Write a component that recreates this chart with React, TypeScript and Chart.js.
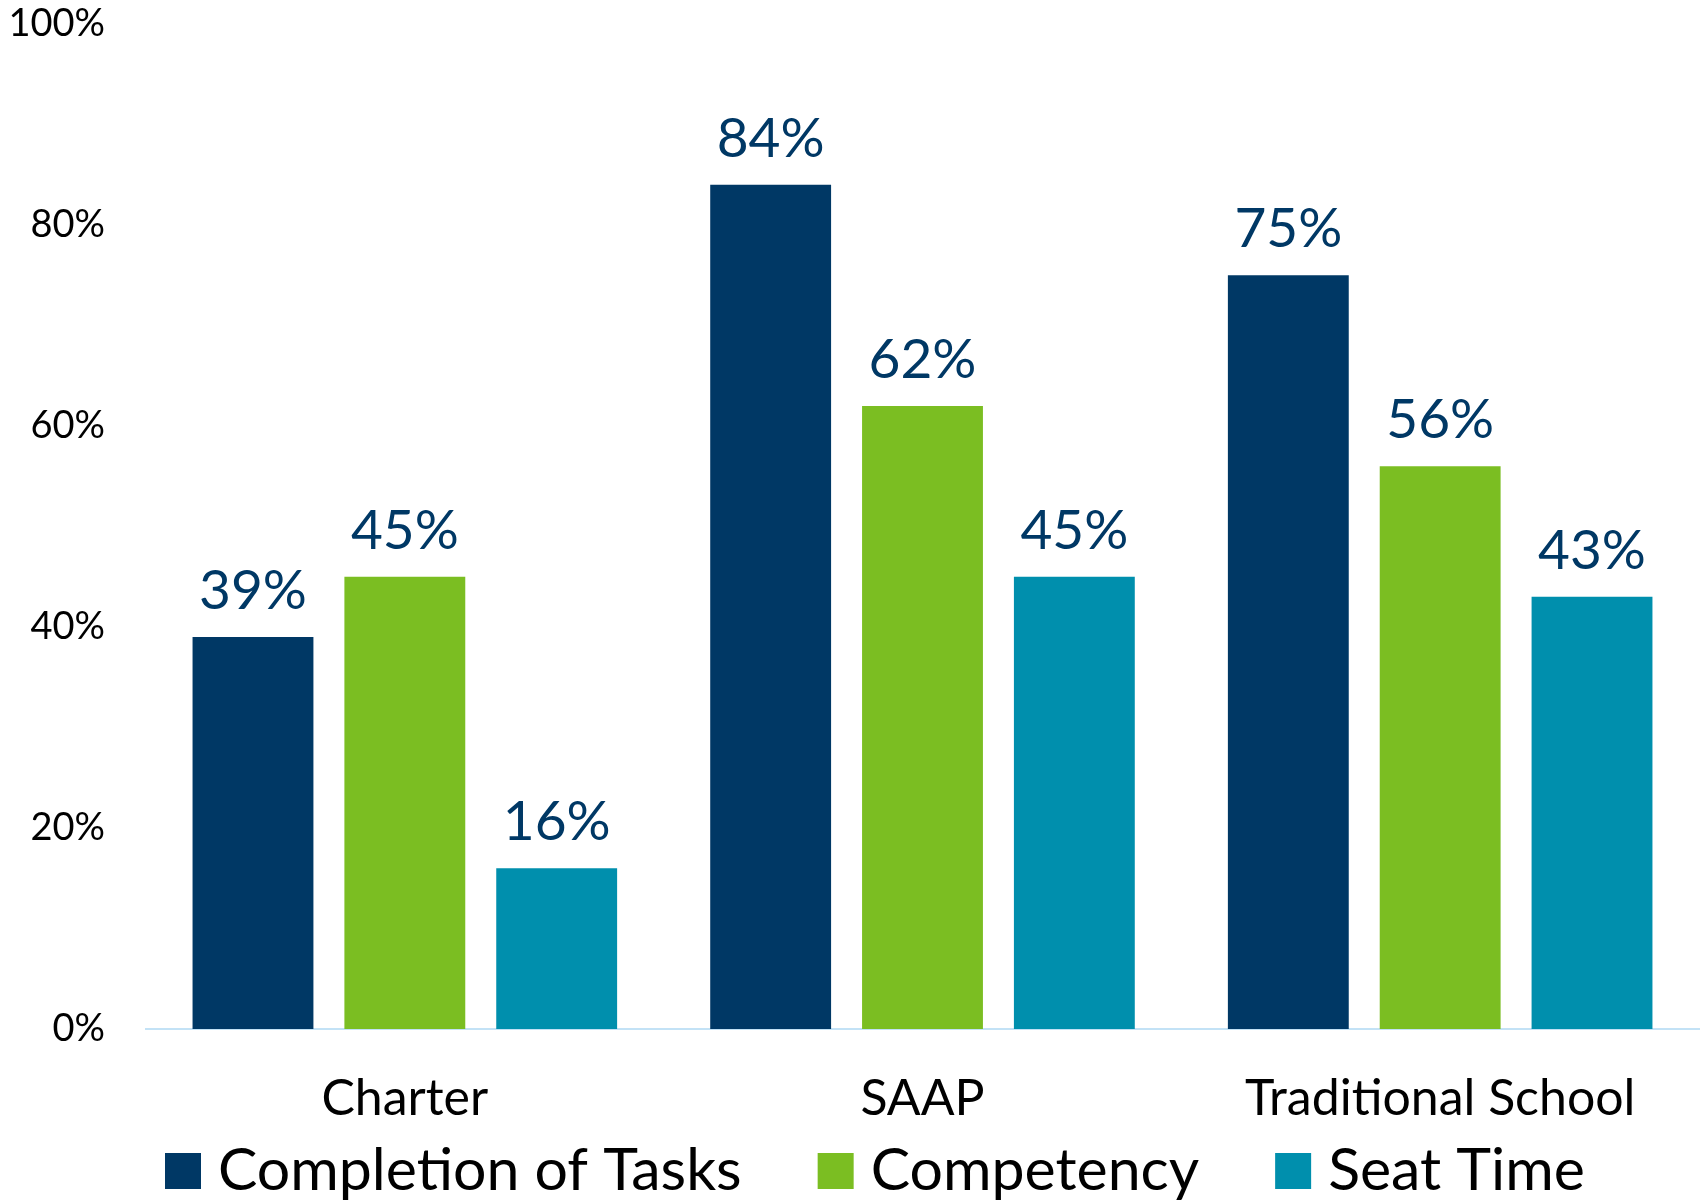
import React, { useEffect, useRef } from "react";
import { Chart, registerables } from "chart.js";

Chart.register(...registerables);

const categories = ["Charter", "SAAP", "Traditional School"];
const seriesNames = ["Completion of Tasks", "Competency", "Seat Time"];
const completionValues = [39, 84, 75];
const competencyValues = [45, 62, 56];
const seatTimeValues = [16, 45, 43];
const yTickValues = [0, 20, 40, 60, 80, 100];

const NAVY = "#003865";
const GREEN = "#7BBE22";
const TEAL = "#008FAD";
const AXIS = "#C3E2F6";
const FONT = "Lato, 'Open Sans', sans-serif";

const valueLabelPlugin = {
  id: "valueLabels",
  afterDatasetsDraw(chart: any) {
    const ctx = chart.ctx;
    ctx.save();
    ctx.font = `55px ${FONT}`;
    ctx.fillStyle = NAVY;
    ctx.textAlign = "center";
    ctx.textBaseline = "alphabetic";
    chart.data.datasets.forEach((ds: any, di: number) => {
      const meta = chart.getDatasetMeta(di);
      meta.data.forEach((el: any, i: number) => {
        ctx.fillText(`${ds.data[i]}%`, el.x, el.y - 28);
      });
    });
    ctx.restore();
  },
};

const legendPlugin = {
  id: "customLegend",
  afterDraw(chart: any) {
    const ctx = chart.ctx;
    ctx.save();
    ctx.font = `59px ${FONT}`;
    ctx.textBaseline = "middle";
    ctx.textAlign = "left";
    const box = 36;
    const gap = 17;
    const itemGap = 76;
    const cy = 1171;
    let x = 165;
    chart.data.datasets.forEach((ds: any) => {
      ctx.fillStyle = ds.backgroundColor;
      ctx.fillRect(x, cy - box / 2, box, box);
      ctx.fillStyle = "#000";
      const tx = x + box + gap;
      ctx.fillText(ds.label, tx, cy);
      x = tx + ctx.measureText(ds.label).width + itemGap;
    });
    ctx.restore();
  },
};

export default function App() {
  const ref = useRef<HTMLCanvasElement | null>(null);

  useEffect(() => {
    if (!ref.current) return;
    const chart = new Chart(ref.current, {
      type: "bar",
      data: {
        labels: categories,
        datasets: [
          { label: seriesNames[0], data: completionValues, backgroundColor: NAVY },
          { label: seriesNames[1], data: competencyValues, backgroundColor: GREEN },
          { label: seriesNames[2], data: seatTimeValues, backgroundColor: TEAL },
        ],
      },
      options: {
        responsive: false,
        animation: false,
        layout: { padding: { top: 24, right: 5, left: 0, bottom: 0 } },
        datasets: {
          bar: { categoryPercentage: 0.88, barPercentage: 0.796 },
        },
        plugins: {
          legend: { display: false },
          tooltip: { enabled: false },
        },
        scales: {
          x: {
            grid: { display: false, drawTicks: false },
            border: { display: true, color: AXIS, width: 2 },
            ticks: {
              color: "#000",
              font: { family: FONT, size: 50 },
              padding: 40,
              maxRotation: 0,
            },
            afterFit: (s: any) => {
              s.height = 171;
            },
          },
          y: {
            min: 0,
            max: 100,
            grid: { display: false, drawTicks: false },
            border: { display: false },
            afterBuildTicks: (s: any) => {
              s.ticks = yTickValues.map((v) => ({ value: v }));
            },
            ticks: {
              color: "#000",
              font: { family: FONT, size: 38 },
              padding: 41,
              callback: (v: any) => `${v}%`,
            },
            afterFit: (s: any) => {
              s.width = 146;
              s.paddingTop = 0;
            },
          },
        },
      },
      plugins: [valueLabelPlugin, legendPlugin],
    });
    return () => chart.destroy();
  }, []);

  return (
    <div style={{ position: "absolute", left: 0, top: 0, width: 1704, height: 1200, background: "#fff" }}>
      <canvas ref={ref} width={1704} height={1200} style={{ display: "block" }} />
    </div>
  );
}
